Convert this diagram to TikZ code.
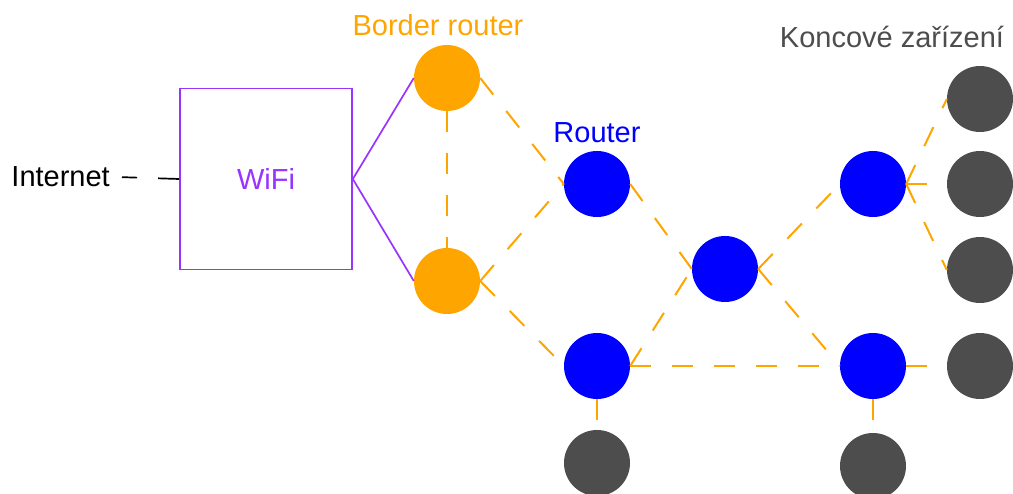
\documentclass[tikz,border=0pt]{standalone}
\usepackage{fontspec}
\setmainfont{Liberation Sans}
\usepackage{tikz}
\usetikzlibrary{positioning}
\definecolor{brorange}{RGB}{255,165,0}
\definecolor{rtblue}{RGB}{0,0,255}
\definecolor{devgray}{RGB}{77,77,77}
\definecolor{wifipurple}{RGB}{153,51,255}
\tikzset{
  br/.style={circle, fill=brorange, minimum size=66pt, inner sep=0pt},
  rt/.style={circle, fill=rtblue, minimum size=66pt, inner sep=0pt},
  dev/.style={circle, fill=devgray, minimum size=66pt, inner sep=0pt},
  ap/.style={draw=wifipurple, line width=1.7pt, minimum width=172pt, minimum height=181pt,
             text=wifipurple, font=\fontsize{29}{34}\selectfont},
  lbl/.style={font=\fontsize{29}{34}\selectfont, anchor=base, inner sep=0pt},
  mesh/.style={brorange, line width=2pt, dash pattern=on 21pt off 21pt},
  uplink/.style={wifipurple, line width=1.7pt}
}
\begin{document}
\begin{tikzpicture}[x=1pt, y=-1pt]
  \useasboundingbox (0,0) rectangle (1013,494);
  % access point and internet
  \node[ap] (wifi) at (266,179) {WiFi};
  \node[lbl, anchor=base east, inner xsep=12pt] (inet) at (122,187) {Internet};
  \draw[black, line width=1.7pt, dash pattern=on 21pt off 21pt] (wifi.west) -- (inet.east);
  % border routers
  \node[br] (br1) at (447,78) {};
  \node[br] (br2) at (447,281) {};
  \node[lbl, text=brorange] (brl) at (438,36) {Border router};
  \draw[uplink] (wifi.east) -- (br1.west);
  \draw[uplink] (wifi.east) -- (br2.west);
  % routers
  \node[rt] (r1) at (597,184) {};
  \node[rt] (r2) at (725,269) {};
  \node[rt] (r3) at (597,366) {};
  \node[rt] (r4) at (873,184) {};
  \node[rt] (r5) at (873,366) {};
  \node[lbl, text=rtblue] (rtl) at (597,143) {Router};
  % end devices
  \node[dev] (e1) at (980,99) {};
  \node[dev] (e2) at (980,184) {};
  \node[dev] (e3) at (980,270) {};
  \node[dev] (e4) at (980,366) {};
  \node[dev] (e5) at (597,463) {};
  \node[dev] (e6) at (873,466) {};
  \node[lbl, text=devgray] (devl) at (892,48) {Koncové zařízení};
  % mesh links
  \draw[mesh] (br1.south) -- (br2.north);
  \draw[mesh] (br1.east) -- (r1.west);
  \draw[mesh] (br2.east) -- (r1.west);
  \draw[mesh] (br2.east) -- (r3.west);
  \draw[mesh] (r1.east) -- (r2.west);
  \draw[mesh] (r3.east) -- (r2.west);
  \draw[mesh] (r3.east) -- (r5.west);
  \draw[mesh] (r2.east) -- (r4.west);
  \draw[mesh] (r2.east) -- (r5.west);
  \draw[mesh] (r4.east) -- (e1.west);
  \draw[mesh] (r4.east) -- (e2.west);
  \draw[mesh] (r4.east) -- (e3.west);
  \draw[mesh] (r5.east) -- (e4.west);
  \draw[mesh] (r3.south) -- (e5.north);
  \draw[mesh] (r5.south) -- (e6.north);
\end{tikzpicture}
\end{document}
